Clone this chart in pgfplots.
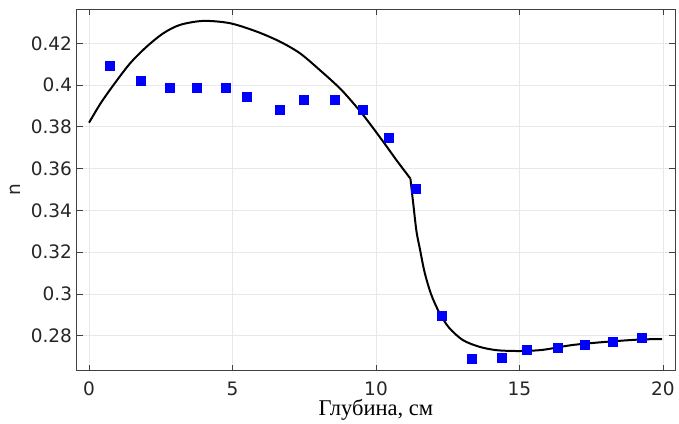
\documentclass[border=0pt]{standalone}
\usepackage{fontspec}
\setmainfont{DejaVu Sans}
\newfontfamily\serifru{Liberation Serif}
\usepackage{pgfplots}
\pgfplotsset{compat=1.18}
\begin{document}
\begin{tikzpicture}
\begin{axis}[
  scale only axis,
  width=598bp, height=361.7bp,
  xmin=-0.43, xmax=20.42,
  ymin=0.2632, ymax=0.4364,
  xtick={0,5,10,15,20},
  ytick={0.28,0.30,0.32,0.34,0.36,0.38,0.40,0.42},
  tick pos=both,
  tick align=inside,
  major tick length=6bp,
  axis line style={draw=black!75, line width=0.9bp},
  every tick/.style={draw=black!75, line width=0.9bp},
  grid=major,
  major grid style={draw=black!9, line width=0.8bp},
  /pgf/number format/assume math mode=true,
  ticklabel style={font=\fontsize{18.5bp}{20bp}\selectfont, text=black!85},
  xticklabel style={anchor=base, yshift=-24.3bp, inner sep=0pt, text depth=0pt},
  yticklabel style={anchor=east, xshift=-4.5bp, inner sep=0pt},
  xlabel={\serifru Глубина, см},
  xlabel style={at={(axis description cs:0.5,-0.1235)}, anchor=base, font=\fontsize{22.5bp}{24bp}\selectfont, inner sep=0pt, text height=13bp},
  ylabel={n},
  ylabel style={at={(axis description cs:-0.103,0.5)}, anchor=center, rotate=0, font=\fontsize{18.5bp}{20bp}\selectfont, text=black!85, inner sep=0pt},
  clip=true,
]
\addplot[black, line width=2bp, smooth, tension=0.5] coordinates {
(0,0.382) (0.4,0.3912) (0.85,0.4000) (1.43,0.4104) (2.01,0.4184) (2.59,0.4248)
(3.17,0.4288) (3.98,0.4307) (4.91,0.4296) (5.84,0.4256) (6.65,0.4208)
(7.35,0.4152) (8.04,0.4072) (8.80,0.3976) (9.55,0.3857) (10.25,0.3729)
(10.71,0.3641) (11.20,0.3552)
};
\addplot[black, line width=2bp, smooth, tension=0.5] coordinates {
(11.20,0.3552) (11.25,0.3490) (11.30,0.3430) (11.41,0.3300) (11.53,0.3215)
(11.70,0.3100) (11.93,0.2995) (12.22,0.2907) (12.55,0.2838) (13.03,0.2779)
(13.61,0.2747) (14.20,0.2731) (14.89,0.2727) (15.50,0.2729) (15.94,0.2735)
(16.86,0.2756) (18.03,0.2771) (19.19,0.2782) (19.97,0.2784)
};
\addplot[only marks, mark=square*, mark size=4.5bp, color=blue, mark options={fill=blue, draw=blue}] coordinates {
(0.73,0.4093) (1.81,0.4019) (2.81,0.3989) (3.76,0.3989) (4.76,0.3989)
(5.49,0.3943) (6.63,0.3884) (7.49,0.3929) (8.57,0.3929) (9.55,0.3884)
(10.43,0.3750) (11.39,0.3502) (12.30,0.2898) (13.32,0.2688) (14.39,0.2697)
(15.26,0.2735) (16.32,0.2741) (17.27,0.2756) (18.26,0.2770) (19.27,0.2792)
};
\end{axis}
\path ([xshift=-76.7bp,yshift=-52.3bp]current axis.south west) rectangle ([xshift=4bp,yshift=9bp]current axis.north east);
\end{tikzpicture}
\end{document}
